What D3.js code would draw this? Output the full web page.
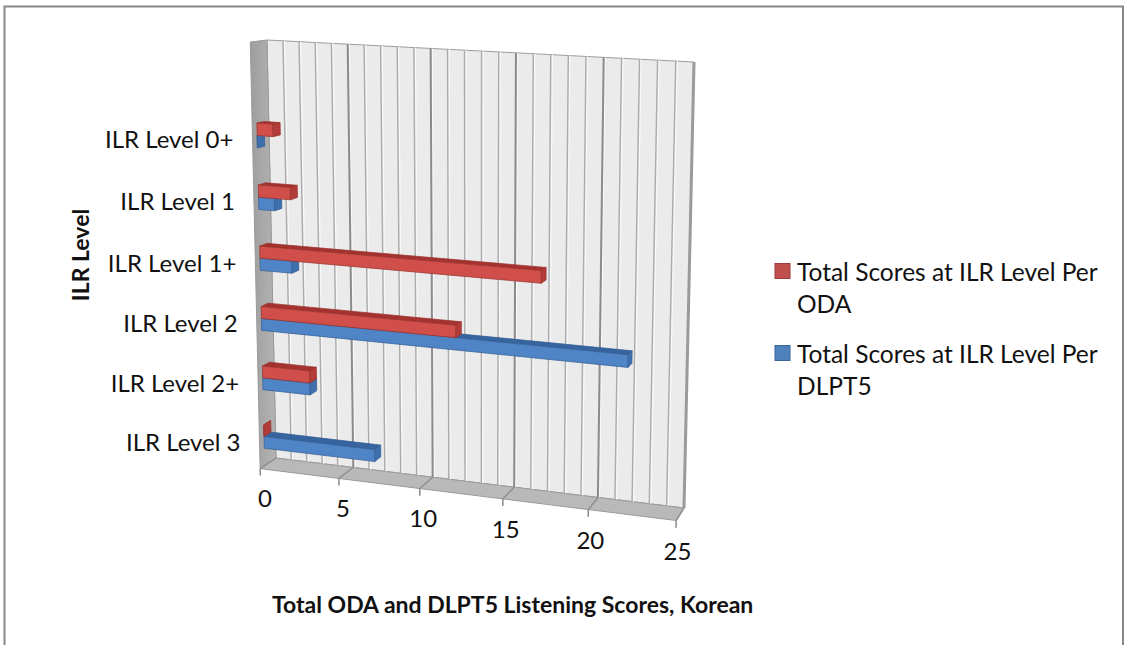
<!DOCTYPE html>
<html>
<head>
<meta charset="utf-8">
<script src="https://cdn.jsdelivr.net/npm/d3@7"></script>
<style>
  html, body { margin: 0; padding: 0; background: #fff; }
  svg { display: block; }
  text { font-family: Lato, "Open Sans", sans-serif; fill: #111; }
</style>
</head>
<body>
<svg id="chart" width="1128" height="645"></svg>
<script>
// ---- data ----
const categories = ["ILR Level 0+", "ILR Level 1", "ILR Level 1+", "ILR Level 2", "ILR Level 2+", "ILR Level 3"];
const odaScores  = [1, 2, 17, 12, 3, 0];
const dlptScores = [0, 1, 2, 22, 3, 7];
const valueTicks = [0, 5, 10, 15, 20, 25];
const seriesKeys = ["oda", "dlpt"];
const legendLines = [["Total Scores at ILR Level Per", "ODA"], ["Total Scores at ILR Level Per", "DLPT5"]];

const svg = d3.select("#chart");

// ---- 3D view: perspective of the plot box ----
// back wall corners on screen: (u,v) = (0,0) bottom-left ... (1,1) top-right
const backWall = { bl: [276, 458], br: [684, 508], tr: [694, 62], tl: [267, 40] };
const vanish = [1036, -53];   // vanishing point of the depth direction
const depthK = 0.0204;         // depth of the box in homogeneous units

function squareToQuad(p0, p1, p2, p3) {
  const [x0, y0] = p0, [x1, y1] = p1, [x2, y2] = p2, [x3, y3] = p3;
  const sx = x0 - x1 + x2 - x3, sy = y0 - y1 + y2 - y3;
  const dx1 = x1 - x2, dx2 = x3 - x2, dy1 = y1 - y2, dy2 = y3 - y2;
  const den = dx1 * dy2 - dx2 * dy1;
  const g = (sx * dy2 - dx2 * sy) / den, h = (dx1 * sy - sx * dy1) / den;
  return { a: x1 - x0 + g * x1, b: x3 - x0 + h * x3, c: x0,
           d: y1 - y0 + g * y1, e: y3 - y0 + h * y3, f: y0, g, h };
}
const M = squareToQuad(backWall.bl, backWall.br, backWall.tr, backWall.tl);

// u: value axis (0..1), v: vertical (0 floor .. 1 top), z: depth (0 front .. 1 back)
function project(u, v, z) {
  const s = -(1 - z) * depthK;
  const xh = M.a * u + M.b * v + M.c + s * vanish[0];
  const yh = M.d * u + M.e * v + M.f + s * vanish[1];
  const w  = M.g * u + M.h * v + 1 + s;
  return [xh / w, yh / w];
}
const poly = pts => "M" + pts.map(p => project(...p).map(n => n.toFixed(2)).join(",")).join("L") + "Z";
function setLine(sel, a, b) {
  sel.attr("x1", a[0]).attr("y1", a[1]).attr("x2", b[0]).attr("y2", b[1]);
}

// ---- scales ----
const xScale = d3.scaleLinear().domain([0, 25]).range([0, 1]);
const slots = [""].concat(categories);        // one blank slot above the first level
const yScale = d3.scaleBand().domain(slots).range([1, 0]).paddingInner(0.6).paddingOuter(0.3);
const ySeries = d3.scaleBand().domain(["dlpt", "oda"]).range([0, yScale.bandwidth()]);
const barDepth = [0.28, 0.72];

const colors = {
  oda:  { front: "#d04f4a", top: "#a5322e", end: "#b43c38", edge: "#98302c", legend: "#c0504d", legendEdge: "#9a3c39" },
  dlpt: { front: "#4f85c6", top: "#36649f", end: "#3f70ae", edge: "#325c92", legend: "#4f81bd", legendEdge: "#3a659a" }
};

// ---- chart frame ----
svg.append("rect").attr("x", 4.5).attr("y", 6.5).attr("width", 1118.5).attr("height", 700)
  .attr("fill", "none").attr("stroke", "#878787").attr("stroke-width", 2);

// ---- walls & floor ----
const defs = svg.append("defs");
const sideGrad = defs.append("linearGradient").attr("id", "sideWall").attr("x1", 0).attr("x2", 1).attr("y1", 0).attr("y2", 0);
sideGrad.append("stop").attr("offset", 0).attr("stop-color", "#9d9d9d");
sideGrad.append("stop").attr("offset", 1).attr("stop-color", "#b4b4b4");

const g3 = svg.append("g");
g3.append("path").attr("d", poly([[0, 0, 1], [1, 0, 1], [1, 1, 1], [0, 1, 1]]))
  .attr("fill", "#ebebeb").attr("stroke", "#9c9c9c").attr("stroke-width", 1);
g3.append("path").attr("d", poly([[0, 0, 0], [0, 0, 1], [0, 1, 1], [0, 1, 0]]))
  .attr("fill", "url(#sideWall)").attr("stroke", "#9a9a9a").attr("stroke-width", 1);
g3.append("path").attr("d", poly([[0, 0, 0], [1, 0, 0], [1, 0, 1], [0, 0, 1]]))
  .attr("fill", "#b9b9b9").attr("stroke", "#9a9a9a").attr("stroke-width", 1);

// gridlines on the back wall (every unit, heavier every 5), with a light edge beside each
const gridVals = d3.range(1, 25);
g3.selectAll("line.gridhi").data(gridVals).join("line").attr("class", "gridhi")
  .each(function (d) {
    setLine(d3.select(this), project(xScale(d), 0, 1).map((n, i) => i ? n : n + 1.6),
                             project(xScale(d), 1, 1).map((n, i) => i ? n : n + 1.6));
  })
  .attr("stroke", "#f8f8f8").attr("stroke-width", 1.2);
g3.selectAll("line.grid").data(gridVals).join("line").attr("class", "grid")
  .each(function (d) { setLine(d3.select(this), project(xScale(d), 0, 1), project(xScale(d), 1, 1)); })
  .attr("stroke", d => d % 5 === 0 ? "#8b8b8b" : "#ababab")
  .attr("stroke-width", d => d % 5 === 0 ? 2 : 1.4);
// gridlines across the floor
g3.selectAll("line.floorgrid").data(valueTicks).join("line").attr("class", "floorgrid")
  .each(function (d) { setLine(d3.select(this), project(xScale(d), 0, 1), project(xScale(d), 0, 0)); })
  .attr("stroke", "#8f8f8f").attr("stroke-width", 1.5);
// right edge of the back wall
g3.append("line").call(setLine, project(1, 0, 1), project(1, 1, 1))
  .attr("stroke", "#9a9a9a").attr("stroke-width", 3);

// ---- value axis ticks and labels ----
const axisG = svg.append("g");
axisG.selectAll("line.tick").data(valueTicks).join("line").attr("class", "tick")
  .each(function (d) { setLine(d3.select(this), project(xScale(d), 0, 0), project(xScale(d), -0.017, 0)); })
  .attr("stroke", "#8a8a8a").attr("stroke-width", 1.5);
axisG.selectAll("text.tl").data(valueTicks).join("text").attr("class", "tl")
  .each(function (d) {
    const p = project(xScale(d), -0.077, 0.25);
    d3.select(this).attr("x", p[0]).attr("y", p[1]);
  })
  .attr("text-anchor", "middle").attr("dominant-baseline", "central")
  .style("font-size", "24px").text(d => d);

// ---- category labels ----
svg.append("g").selectAll("text").data(categories).join("text")
  .each(function (d) {
    const p = project(0, yScale(d) + yScale.bandwidth() / 2, 0);
    d3.select(this).attr("x", p[0] - 19).attr("y", p[1] + 2);
  })
  .attr("text-anchor", "end").attr("dominant-baseline", "central")
  .style("font-size", "24px").text(d => d);

// ---- bars ----
const bars = [];
categories.forEach((c, i) => {
  bars.push({ cat: c, key: "dlpt", value: dlptScores[i] });
  bars.push({ cat: c, key: "oda", value: odaScores[i] });
});
// paint from the floor upward so upper boxes cover the hidden tops below them
bars.sort((a, b) => (yScale(a.cat) + ySeries(a.key)) - (yScale(b.cat) + ySeries(b.key)));

const barG = svg.append("g");
bars.forEach(b => {
  const u1 = xScale(b.value);
  const v0 = yScale(b.cat) + ySeries(b.key), v1 = v0 + ySeries.bandwidth();
  const [z0, z1] = barDepth;
  const col = colors[b.key];
  const g = barG.append("g").attr("stroke", col.edge).attr("stroke-width", 0.7).attr("stroke-linejoin", "round");
  g.append("path").attr("d", poly([[0, v1, z0], [u1, v1, z0], [u1, v1, z1], [0, v1, z1]])).attr("fill", col.top);
  g.append("path").attr("d", poly([[0, v0, z0], [u1, v0, z0], [u1, v1, z0], [0, v1, z0]])).attr("fill", col.front);
  g.append("path").attr("d", poly([[u1, v0, z0], [u1, v0, z1], [u1, v1, z1], [u1, v1, z0]])).attr("fill", col.end);
});

// ---- axis titles ----
svg.append("text").attr("transform", "translate(80,255) rotate(-90)")
  .attr("text-anchor", "middle").attr("dominant-baseline", "central")
  .style("font-size", "23px").style("font-weight", "bold").text("ILR Level");
svg.append("text").attr("x", 272).attr("y", 604)
  .attr("text-anchor", "start").attr("dominant-baseline", "central")
  .style("font-size", "23px").style("font-weight", "bold")
  .text("Total ODA and DLPT5 Listening Scores, Korean");

// ---- legend ----
const legend = svg.append("g");
const legendRows = [271, 353];
seriesKeys.forEach((k, i) => {
  const y0 = legendRows[i];
  legend.append("rect").attr("x", 775).attr("y", y0 - 7.5).attr("width", 15).attr("height", 15)
    .attr("fill", colors[k].legend).attr("stroke", colors[k].legendEdge).attr("stroke-width", 1);
  legendLines[i].forEach((line, j) => {
    legend.append("text").attr("x", 797).attr("y", y0 + j * 32)
      .attr("dominant-baseline", "central").style("font-size", "24.5px").text(line);
  });
});
</script>
</body>
</html>
